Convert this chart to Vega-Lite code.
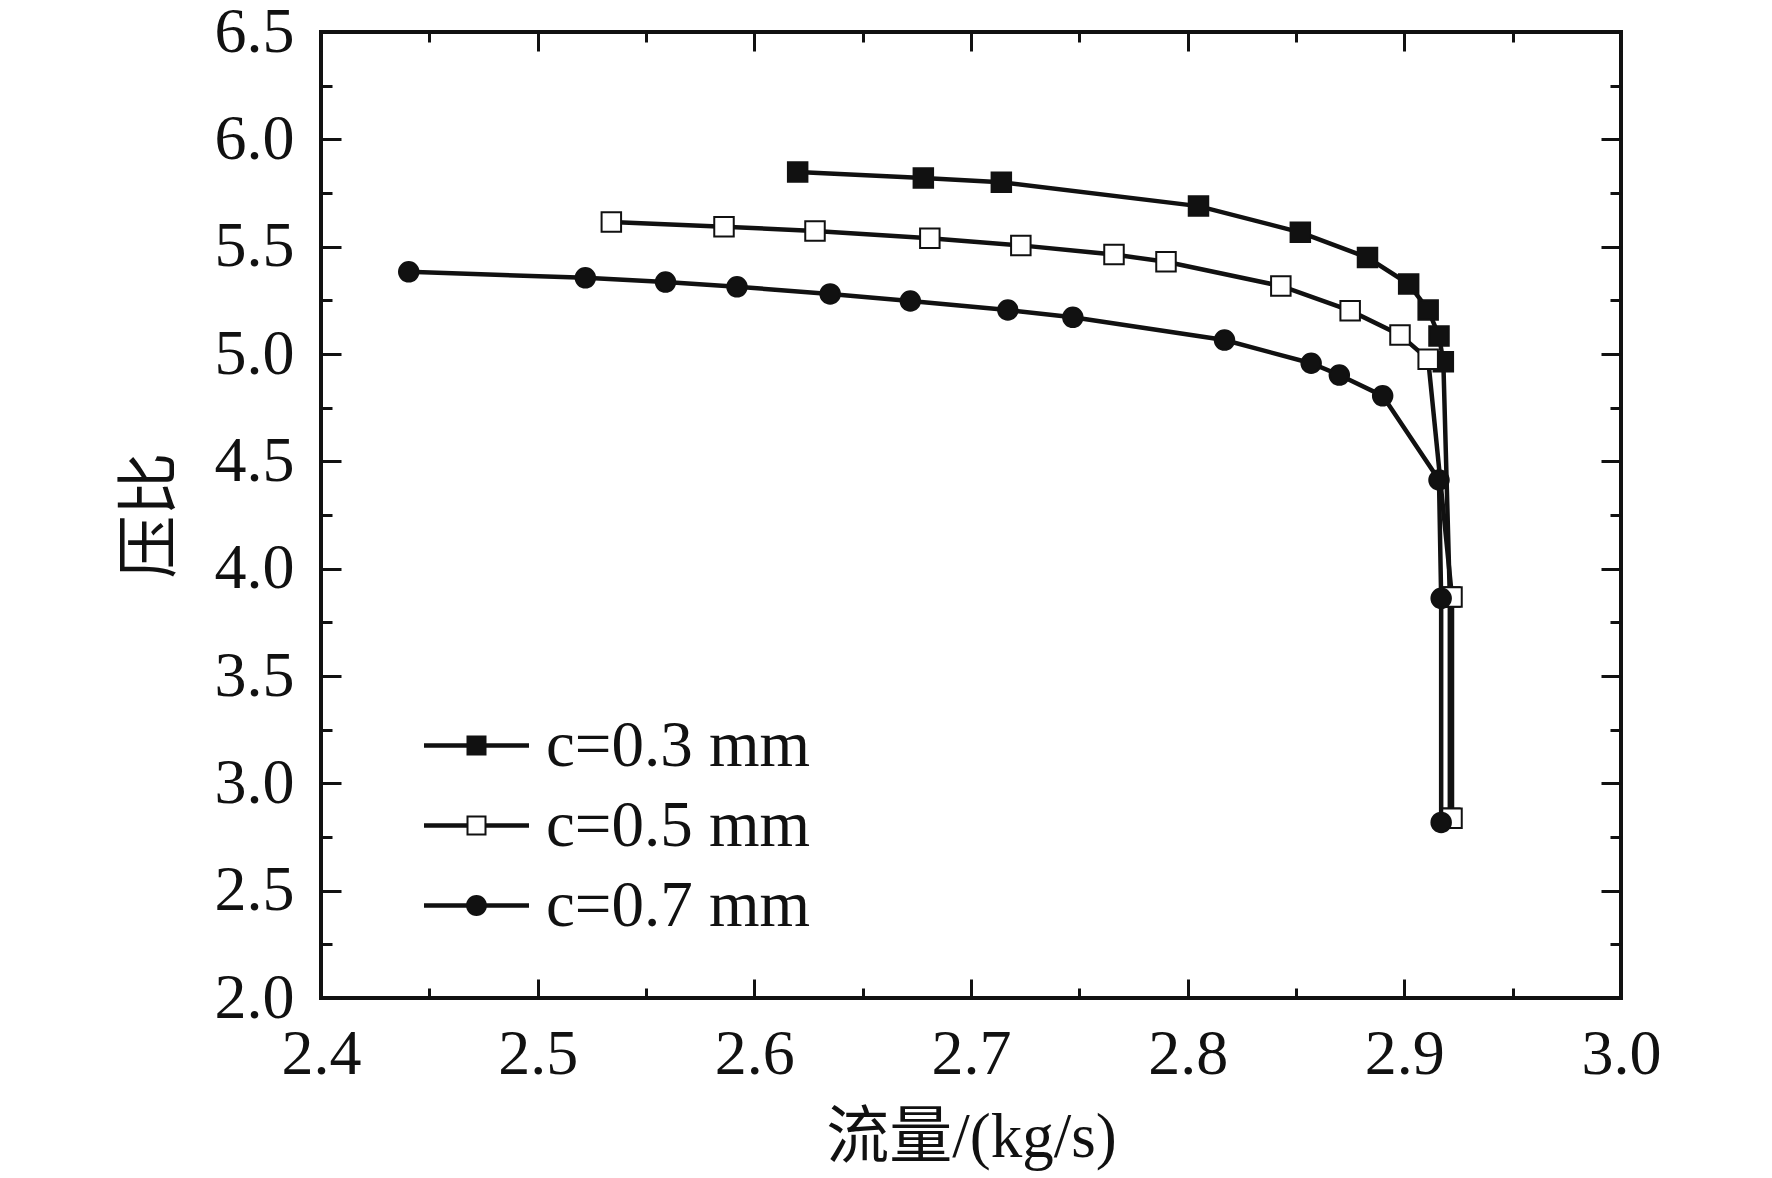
{
  "$schema": "https://vega.github.io/schema/vega-lite/v6.json",
  "width": 1300,
  "height": 966,
  "autosize": {"type": "none"},
  "padding": {"left": 321, "top": 32, "right": 151, "bottom": 180},
  "background": "white",
  "data": {
    "values": [
      {"i": 1, "series": "c=0.3 mm", "x": 2.620, "y": 5.848},
      {"i": 2, "series": "c=0.3 mm", "x": 2.678, "y": 5.820},
      {"i": 3, "series": "c=0.3 mm", "x": 2.714, "y": 5.800},
      {"i": 4, "series": "c=0.3 mm", "x": 2.805, "y": 5.689},
      {"i": 5, "series": "c=0.3 mm", "x": 2.852, "y": 5.567},
      {"i": 6, "series": "c=0.3 mm", "x": 2.883, "y": 5.449},
      {"i": 7, "series": "c=0.3 mm", "x": 2.902, "y": 5.326},
      {"i": 8, "series": "c=0.3 mm", "x": 2.911, "y": 5.205},
      {"i": 9, "series": "c=0.3 mm", "x": 2.916, "y": 5.084},
      {"i": 10, "series": "c=0.3 mm", "x": 2.918, "y": 4.964},
      {"i": 11, "series": "c=0.3 mm", "x": 2.921, "y": 3.868},
      {"i": 12, "series": "c=0.3 mm", "x": 2.921, "y": 2.837},
      {"i": 13, "series": "c=0.5 mm", "x": 2.534, "y": 5.615},
      {"i": 14, "series": "c=0.5 mm", "x": 2.586, "y": 5.593},
      {"i": 15, "series": "c=0.5 mm", "x": 2.628, "y": 5.573},
      {"i": 16, "series": "c=0.5 mm", "x": 2.681, "y": 5.539},
      {"i": 17, "series": "c=0.5 mm", "x": 2.723, "y": 5.506},
      {"i": 18, "series": "c=0.5 mm", "x": 2.766, "y": 5.463},
      {"i": 19, "series": "c=0.5 mm", "x": 2.790, "y": 5.430},
      {"i": 20, "series": "c=0.5 mm", "x": 2.843, "y": 5.317},
      {"i": 21, "series": "c=0.5 mm", "x": 2.875, "y": 5.202},
      {"i": 22, "series": "c=0.5 mm", "x": 2.898, "y": 5.089},
      {"i": 23, "series": "c=0.5 mm", "x": 2.911, "y": 4.975},
      {"i": 24, "series": "c=0.5 mm", "x": 2.922, "y": 3.868},
      {"i": 25, "series": "c=0.5 mm", "x": 2.922, "y": 2.837},
      {"i": 26, "series": "c=0.7 mm", "x": 2.4405, "y": 5.383},
      {"i": 27, "series": "c=0.7 mm", "x": 2.522, "y": 5.355},
      {"i": 28, "series": "c=0.7 mm", "x": 2.559, "y": 5.335},
      {"i": 29, "series": "c=0.7 mm", "x": 2.592, "y": 5.313},
      {"i": 30, "series": "c=0.7 mm", "x": 2.635, "y": 5.280},
      {"i": 31, "series": "c=0.7 mm", "x": 2.672, "y": 5.247},
      {"i": 32, "series": "c=0.7 mm", "x": 2.717, "y": 5.205},
      {"i": 33, "series": "c=0.7 mm", "x": 2.747, "y": 5.171},
      {"i": 34, "series": "c=0.7 mm", "x": 2.817, "y": 5.065},
      {"i": 35, "series": "c=0.7 mm", "x": 2.857, "y": 4.957},
      {"i": 36, "series": "c=0.7 mm", "x": 2.870, "y": 4.902},
      {"i": 37, "series": "c=0.7 mm", "x": 2.890, "y": 4.805},
      {"i": 38, "series": "c=0.7 mm", "x": 2.916, "y": 4.413},
      {"i": 39, "series": "c=0.7 mm", "x": 2.917, "y": 3.862},
      {"i": 40, "series": "c=0.7 mm", "x": 2.917, "y": 2.818}
    ]
  },
  "layer": [
    {
      "mark": {"type": "line", "color": "#111", "strokeWidth": 4.5},
      "encoding": {
        "x": {
          "field": "x", "type": "quantitative",
          "scale": {"domain": [2.4, 3.0], "nice": false, "zero": false},
          "axis": {
            "orient": "bottom", "values": [2.4, 2.5, 2.6, 2.7, 2.8, 2.9, 3.0], "format": ".1f",
            "ticks": false, "domain": false, "labelFlush": false, "labelPadding": 24,
            "title": "流量/(kg/s)", "titlePadding": 20
          }
        },
        "y": {
          "field": "y", "type": "quantitative",
          "scale": {"domain": [2.0, 6.5], "nice": false, "zero": false},
          "axis": {
            "orient": "left", "values": [2.0, 2.5, 3.0, 3.5, 4.0, 4.5, 5.0, 5.5, 6.0, 6.5], "format": ".1f",
            "ticks": false, "domain": false, "labelFlush": false, "labelPadding": 27,
            "title": "压比", "titlePadding": 32
          }
        },
        "detail": {"field": "series"},
        "order": {"field": "i"}
      }
    },
    {
      "mark": {"type": "point", "filled": false, "opacity": 1, "stroke": "#111", "strokeWidth": 2, "size": 380},
      "encoding": {
        "x": {"field": "x", "type": "quantitative",
          "axis": {"orient": "bottom", "values": [2.4, 2.5, 2.6, 2.7, 2.8, 2.9, 3.0], "labels": false, "domain": false, "tickSize": -19, "title": null}},
        "y": {"field": "y", "type": "quantitative",
          "axis": {"orient": "left", "values": [2.0, 2.5, 3.0, 3.5, 4.0, 4.5, 5.0, 5.5, 6.0, 6.5], "labels": false, "domain": false, "tickSize": -20, "title": null}},
        "shape": {
          "field": "series", "type": "nominal",
          "scale": {"domain": ["c=0.3 mm", "c=0.5 mm", "c=0.7 mm"], "range": ["square", "square", "circle"]},
          "legend": null
        },
        "fill": {
          "field": "series", "type": "nominal",
          "scale": {"domain": ["c=0.3 mm", "c=0.5 mm", "c=0.7 mm"], "range": ["#111", "#ffffff", "#111"]},
          "legend": null
        }
      }
    },
    {
      "transform": [{"filter": "false"}],
      "mark": {"type": "point", "filled": true, "color": "#111", "opacity": 1, "strokeWidth": 0},
      "encoding": {
        "x": {"field": "x", "type": "quantitative", "axis": null},
        "y": {"field": "y", "type": "quantitative", "axis": null},
        "shape": {
          "field": "series", "type": "nominal",
          "scale": {
            "domain": ["c=0.3 mm", "c=0.5 mm", "c=0.7 mm"],
            "range": [
              "M-5.25,-0.22H-1V0.22H-5.25Z M1,-0.22H5.25V0.22H1Z M-1,-1H1V1H-1Z",
              "M-5.25,-0.22H-1V0.22H-5.25Z M1,-0.22H5.25V0.22H1Z M-1,-1H1V1H-1Z M-0.8,-0.8V0.8H0.8V-0.8Z",
              "M-5.25,-0.22H-1V0.22H-5.25Z M1,-0.22H5.25V0.22H1Z M-1.05,0A1.05,1.05 0 1,1 1.05,0A1.05,1.05 0 1,1 -1.05,0Z"
            ]
          },
          "legend": {
            "title": null, "orient": "none", "legendX": 123, "legendY": 681, "padding": 0,
            "symbolSize": 400, "symbolStrokeWidth": 0, "symbolFillColor": "#111", "symbolOpacity": 1,
            "labelOffset": 37, "rowPadding": 14, "labelLimit": 0,
            "labelFont": "Liberation Serif", "labelFontSize": 65, "labelColor": "#111"
          }
        }
      }
    },
    {
      "mark": {"type": "point", "opacity": 0},
      "encoding": {
        "x": {"field": "x", "type": "quantitative",
          "axis": {"orient": "bottom", "values": [2.45, 2.55, 2.65, 2.75, 2.85, 2.95], "labels": false, "domain": false, "tickSize": -10, "title": null}},
        "y": {"field": "y", "type": "quantitative",
          "axis": {"orient": "left", "values": [2.25, 2.75, 3.25, 3.75, 4.25, 4.75, 5.25, 5.75, 6.25], "labels": false, "domain": false, "tickSize": -11, "title": null}}
      }
    },
    {
      "mark": {"type": "point", "opacity": 0},
      "encoding": {
        "x": {"field": "x", "type": "quantitative",
          "axis": {"orient": "top", "values": [2.4, 2.5, 2.6, 2.7, 2.8, 2.9, 3.0], "labels": false, "domain": false, "tickSize": -19, "title": null}},
        "y": {"field": "y", "type": "quantitative",
          "axis": {"orient": "right", "values": [2.0, 2.5, 3.0, 3.5, 4.0, 4.5, 5.0, 5.5, 6.0, 6.5], "labels": false, "domain": false, "tickSize": -20, "title": null}}
      }
    },
    {
      "mark": {"type": "point", "opacity": 0},
      "encoding": {
        "x": {"field": "x", "type": "quantitative",
          "axis": {"orient": "top", "values": [2.45, 2.55, 2.65, 2.75, 2.85, 2.95], "labels": false, "domain": false, "tickSize": -10, "title": null}},
        "y": {"field": "y", "type": "quantitative",
          "axis": {"orient": "right", "values": [2.25, 2.75, 3.25, 3.75, 4.25, 4.75, 5.25, 5.75, 6.25], "labels": false, "domain": false, "tickSize": -11, "title": null}}
      }
    }
  ],
  "resolve": {"axis": {"x": "independent", "y": "independent"}, "scale": {"shape": "independent"}},
  "config": {
    "view": {"stroke": "#111", "strokeWidth": 4},
    "axis": {
      "grid": false,
      "tickColor": "#111", "tickWidth": 3,
      "labelFont": "Liberation Serif", "labelFontSize": 64, "labelColor": "#111",
      "titleFont": "Liberation Serif, Noto Sans CJK SC", "titleFontSize": 63, "titleFontWeight": "normal", "titleColor": "#111"
    }
  }
}
